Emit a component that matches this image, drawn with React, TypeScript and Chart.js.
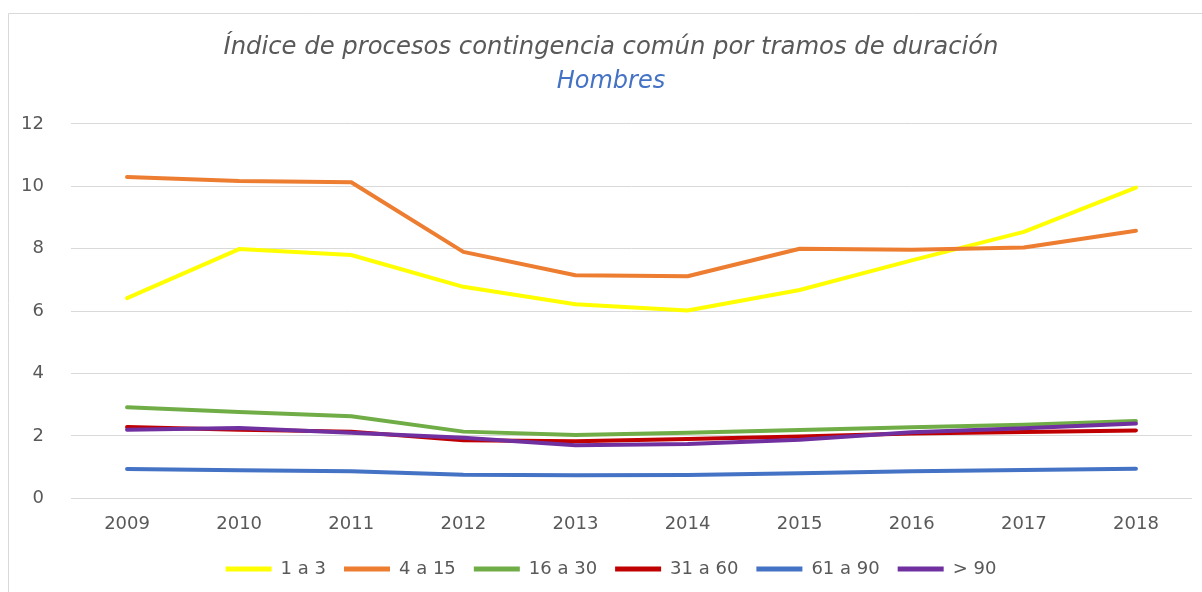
import React, { useEffect, useRef } from "react";
import { Chart, registerables } from "chart.js";

Chart.register(...registerables);

const years = ["2009", "2010", "2011", "2012", "2013", "2014", "2015", "2016", "2017", "2018"];
const seriesNames = ["1 a 3", "4 a 15", "16 a 30", "31 a 60", "61 a 90", "> 90"];
const s1a3 = [6.42, 7.99, 7.8, 6.78, 6.22, 6.02, 6.68, 7.63, 8.54, 9.96];
const s4a15 = [10.3, 10.17, 10.13, 7.9, 7.15, 7.12, 8.0, 7.97, 8.04, 8.58];
const s16a30 = [2.92, 2.77, 2.63, 2.14, 2.03, 2.1, 2.19, 2.28, 2.36, 2.48];
const s31a60 = [2.29, 2.2, 2.14, 1.86, 1.83, 1.9, 1.98, 2.08, 2.13, 2.18];
const s61a90 = [0.94, 0.9, 0.87, 0.76, 0.74, 0.75, 0.81, 0.87, 0.91, 0.95];
const sMas90 = [2.2, 2.26, 2.1, 1.94, 1.7, 1.74, 1.88, 2.12, 2.25, 2.4];
const seriesColors = ["#FFFF00", "#ED7D31", "#70AD47", "#C00000", "#4472C4", "#7030A0"];
const titleText = "Índice de procesos contingencia común por tramos de duración";
const subtitleText = "Hombres";

const FONT = "'DejaVu Sans', sans-serif";

const borderPlugin = {
  id: "outerBorder",
  beforeDraw(chart: any) {
    const ctx = chart.ctx;
    ctx.save();
    ctx.strokeStyle = "#d9d9d9";
    ctx.lineWidth = 1;
    ctx.beginPath();
    ctx.moveTo(8.5, chart.height + 5);
    ctx.lineTo(8.5, 13.5);
    ctx.lineTo(chart.width - 8.5, 13.5);
    ctx.stroke();
    ctx.restore();
  },
};

export default function App() {
  const ref = useRef<HTMLCanvasElement | null>(null);
  useEffect(() => {
    if (!ref.current) return;
    const all = [s1a3, s4a15, s16a30, s31a60, s61a90, sMas90];
    const chart = new Chart(ref.current, {
      type: "line",
      data: {
        labels: years,
        datasets: all.map((d, i) => ({
          label: seriesNames[i],
          data: d,
          borderColor: seriesColors[i],
          backgroundColor: seriesColors[i],
          borderWidth: 4,
          borderCapStyle: "round",
          borderJoinStyle: "round",
          pointRadius: 0,
          tension: 0,
          order: all.length - i,
          yAxisID: "y",
        })),
      },
      options: {
        animation: false,
        responsive: false,
        maintainAspectRatio: false,
        layout: { padding: { left: 18, right: 18, top: 0, bottom: 4 } },
        plugins: {
          tooltip: { enabled: false },
          title: {
            display: true,
            text: titleText,
            color: "#595959",
            font: { family: FONT, size: 24.3, style: "italic", weight: "normal", lineHeight: 1.2 },
            padding: { top: 33, bottom: 5 },
          },
          subtitle: {
            display: true,
            text: subtitleText,
            color: "#4472C4",
            font: { family: FONT, size: 24, style: "italic", weight: "normal", lineHeight: 1.2 },
            padding: { top: 0, bottom: 28 },
          },
          legend: {
            position: "bottom",
            labels: {
              color: "#595959",
              font: { family: FONT, size: 18 },
              boxWidth: 46,
              boxHeight: 5,
              padding: 18,
              sort: (a: any, b: any) => a.datasetIndex - b.datasetIndex,
              generateLabels: (c: any) => {
                const items = Chart.defaults.plugins.legend.labels.generateLabels(c);
                return items.map((it: any) => ({ ...it, lineWidth: 0, fillStyle: it.strokeStyle }));
              },
            },
          },
        },
        scales: {
          x: {
            offset: true,
            grid: { display: false, drawTicks: false },
            border: { display: false },
            ticks: { color: "#595959", font: { family: FONT, size: 18 }, padding: 15 },
            afterFit: (s: any) => {
              s.height = s.height - 8;
            },
          },
          y: {
            min: 0,
            max: 12,
            grid: { color: "#d9d9d9", lineWidth: 1, drawTicks: false },
            border: { display: false },
            ticks: { stepSize: 2, color: "#595959", font: { family: FONT, size: 18 }, padding: 27 },
            afterFit: (s: any) => {
              s.width = 53;
            },
          },
          yRight: {
            type: "linear",
            axis: "y",
            position: "right",
            display: true,
            grid: { display: false, drawTicks: false },
            border: { display: false },
            ticks: { display: false },
            afterFit: (s: any) => {
              s.width = 12;
            },
          },
        },
      },
      plugins: [borderPlugin],
    } as any);
    return () => chart.destroy();
  }, []);
  return (
    <div style={{ position: "fixed", left: 0, top: 0, width: 1222, height: 592, background: "#fff" }}>
      <canvas ref={ref} width={1222} height={592} style={{ display: "block", width: 1222, height: 592 }} />
    </div>
  );
}
